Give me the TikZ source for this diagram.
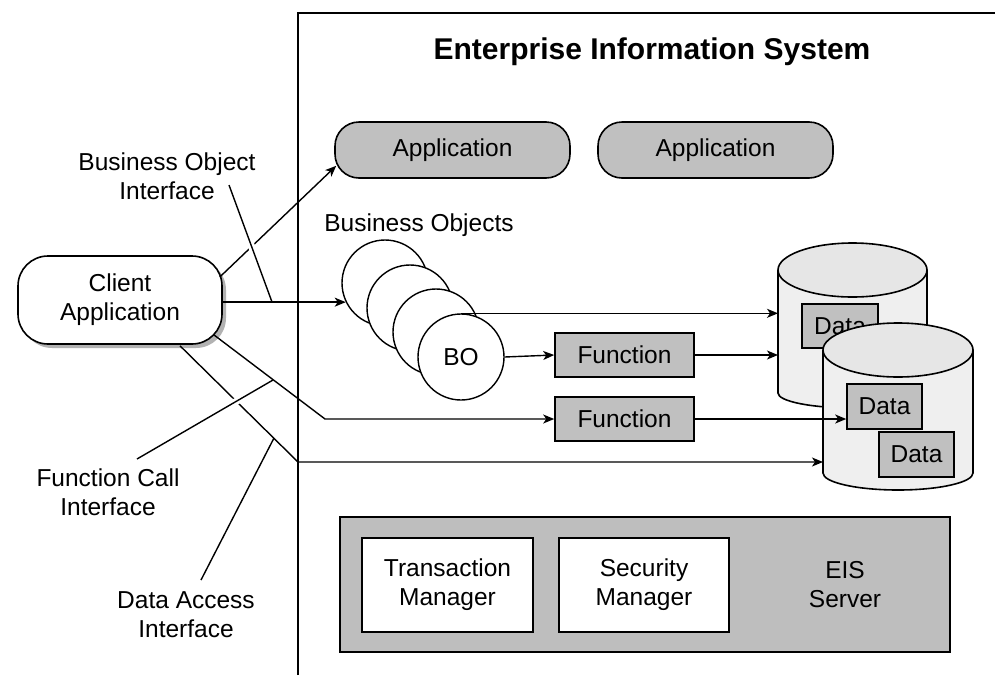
\documentclass[tikz,border=0pt]{standalone}
\usepackage{fontspec}
\setmainfont{Liberation Sans}
\usetikzlibrary{arrows.meta,calc,shadows}
\definecolor{boxgray}{HTML}{C0C0C0}
\definecolor{servgray}{HTML}{BEBEBE}
\definecolor{cylbody}{HTML}{EFEFEF}
\definecolor{cyltop}{HTML}{E6E6E6}
\begin{document}
\begin{tikzpicture}[x=1pt,y=-1pt,line width=1.4pt,
  txt/.style={font=\fontsize{24.5}{29}\selectfont, align=center, inner sep=0pt},
  graybox/.style={txt, draw, fill=boxgray, line width=1.6pt},
  pill/.style={graybox, rounded corners=24pt, minimum width=235pt, minimum height=56pt},
  fbox/.style={graybox, minimum width=139pt, minimum height=44pt},
  dbox/.style={graybox, minimum width=75pt, minimum height=45pt},
  bocirc/.style={txt, circle, draw, fill=white, minimum size=86pt},
  wbox/.style={txt, draw, fill=white, line width=1.6pt, minimum width=171pt, minimum height=94pt},
  conn/.style={line width=1.4pt, -{Stealth[length=11pt,width=9pt,inset=3pt]}},
  ptr/.style={line width=1.4pt, preaction={draw=white, line width=7pt, shorten >=7pt}},
  ghost/.style={inner sep=0pt, outer sep=0pt}
]
\useasboundingbox (0,0) rectangle (995,675);

% frame of the EIS
\draw[line width=1.8pt] (298,675) -- (298,13) -- (995,13);
\node[font=\bfseries\fontsize{30}{36}\selectfont, inner sep=0pt] (title) at (652,52) {Enterprise Information System};

% applications
\node[pill] (app1) at (452.5,150) {Application};
\node[pill] (app2) at (715.5,150) {Application};

% client
\node[txt, draw, fill=white, line width=1.6pt, rounded corners=30pt, minimum width=204pt, minimum height=88pt,
      general shadow={fill=black!30, shadow xshift=4pt, shadow yshift=-4pt}] (client) at (120,300) {Client\\Application};

% labels
\node[txt] (bol) at (419,225) {Business Objects};
\node[txt] (boi) at (167,176) {Business Object\\Interface};
\node[txt] (fci) at (108,492) {Function Call\\Interface};
\node[txt] (dai) at (186,615) {Data Access\\Interface};

% business objects
\node[bocirc] (bo1) at (385,283) {};
\node[bocirc] (bo2) at (410,308) {};
\node[bocirc] (bo3) at (436,332) {};
\node[bocirc] (bo4) at (461,357) {BO};

% functions
\node[fbox] (f1) at (624.5,355) {Function};
\node[fbox] (f2) at (624.5,419) {Function};

% cylinders (anchor holders)
\node[ghost, minimum width=149pt, minimum height=164pt] (cyl1) at (852.5,325) {};
\node[ghost, minimum width=150pt, minimum height=167pt] (cyl2) at (898,406.5) {};

% cylinder 1
\fill[cylbody] (778,270) -- (778,393) arc[start angle=180, end angle=0, x radius=74.5, y radius=15] -- (927,270) -- cycle;
\draw[line width=1.6pt] (778,270) -- (778,393) arc[start angle=180, end angle=0, x radius=74.5, y radius=15] -- (927,270);
\draw[line width=1.6pt, fill=cyltop] (852.5,270) ellipse[x radius=74.5, y radius=27];
\node[dbox, minimum width=76pt, minimum height=44pt] (d0) at (840,326) {Data};

% cylinder 2
\fill[cylbody] (823,350) -- (823,473) arc[start angle=180, end angle=0, x radius=75, y radius=17] -- (973,350) -- cycle;
\draw[line width=1.6pt] (823,350) -- (823,473) arc[start angle=180, end angle=0, x radius=75, y radius=17] -- (973,350);
\draw[line width=1.6pt, fill=cyltop] (898,350) ellipse[x radius=75, y radius=27];
\node[dbox] (d1) at (884.5,406.5) {Data};
\node[dbox] (d2) at (916.5,454.5) {Data};

% EIS server
\node[draw, fill=servgray, line width=1.6pt, minimum width=610pt, minimum height=135pt, inner sep=0pt] (eis) at (645,584.5) {};
\node[wbox] (tm) at (447.5,585) {Transaction\\Manager};
\node[wbox, minimum width=170pt] (sm) at (644,585) {Security\\Manager};
\node[txt] (eist) at (845,585) {EIS\\Server};

% connectors
\coordinate (b3) at (325,419);
\coordinate (b4) at (298,462);
\draw[conn] (bo1.206 -| client.east) -- (bo1.206);
\draw[conn] ($(client.east)+(-3,-23)$) -- ($(app1.south west)+(2,-13)$);
\draw[conn] ($(client.south east)+(-9,-10)$) -- (b3) -- (f2.west);
\draw[conn] ($(client.south)+(60,1)$) -- (b4) -- (b4 -| cyl2.west);
\draw[conn] (bo4.north) -- (bo4.north -| cyl1.west);
\draw[conn] (bo4.east) -- (f1.west);
\draw[conn] (f1.east) -- (f1.east -| cyl1.west);
\draw[conn] (f2.east) -- (f2.east -| d1.west);

% pointer lines of the interface labels
\coordinate (p1) at (272,302);
\coordinate (p2) at (273,380);
\coordinate (p3) at (274,438);
\draw[ptr] ($(boi.center)+(62,9)$) -- (p1);
\draw[ptr] ($(fci.center)+(29,-33)$) -- (p2);
\draw[ptr] ($(dai.center)+(15,-35)$) -- (p3);
\end{tikzpicture}
\end{document}
